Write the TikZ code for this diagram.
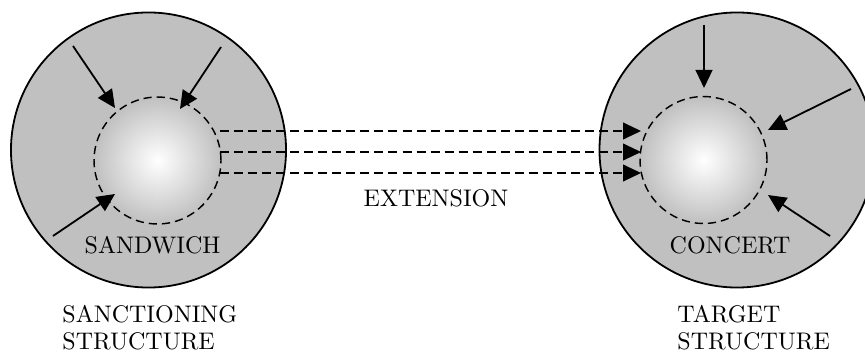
\documentclass[tikz,border=0pt]{standalone}
\usetikzlibrary{arrows.meta}
\definecolor{discgray}{RGB}{192,192,192}
\begin{document}
\begin{tikzpicture}[x=0.41667pt,y=-0.41667pt,
  bigdisc/.style={circle,draw=black,line width=0.75pt,fill=discgray,
    minimum size=114.6pt,inner sep=0pt},
  core/.style={circle,draw=black,line width=0.6pt,
    dash pattern=on 3.4pt off 2.1pt,
    inner color=white,outer color=discgray,
    minimum size=52.9pt,inner sep=0pt},
  force/.style={line width=0.75pt,-{Triangle[length=7.5pt,width=7pt]}},
  ext/.style={line width=0.65pt,dash pattern=on 3.75pt off 2.1pt,
    -{Triangle[length=7.5pt,width=7pt]}},
  lbl/.style={inner sep=0pt,font=\fontsize{10}{11.25}\selectfont}]
\useasboundingbox (0,0) rectangle (865,352);
\clip (0,0) rectangle (865,352);

% the two structures
\node[bigdisc] (sanc) at (148.5,150) {};
\node[bigdisc] (targ) at (737,150) {};
\node[core] (sancCore) at (157.5,160.5) {};
\node[core] (targCore) at (703.5,160) {};

% forces acting on the sanctioning structure
\coordinate (s1) at (73,46);    \coordinate (s1t) at (115,108);
\coordinate (s2) at (221,47);   \coordinate (s2t) at (180,109);
\coordinate (s3) at (53,236);   \coordinate (s3t) at (115,194);
\draw[force] (s1) -- (s1t);
\draw[force] (s2) -- (s2t);
\draw[force] (s3) -- (s3t);

% forces acting on the target structure
\coordinate (t1) at (704,25);   \coordinate (t1t) at (704,88);
\coordinate (t2) at (851,89);   \coordinate (t2t) at (768,130);
\coordinate (t3) at (830,236);  \coordinate (t3t) at (768,195);
\draw[force] (t1) -- (t1t);
\draw[force] (t2) -- (t2t);
\draw[force] (t3) -- (t3t);

% extension links
\foreach \yy/\nm in {131/a,152/b,173/c}{
  \coordinate (e\nm) at (220,\yy);
  \coordinate (f\nm) at (641,\yy);
  \draw[ext] (e\nm) -- (f\nm);
}

% labels
\node[lbl,anchor=base] (sandwich) at (152.5,253) {SANDWICH};
\node[lbl,anchor=base] (concert) at (730,253) {CONCERT};
\node[lbl,anchor=base] (extension) at (436,206) {EXTENSION};
\node[lbl,anchor=north west,align=left] (sanctioning) at (62,304.5)
  {SANCTIONING\\STRUCTURE};
\node[lbl,anchor=north west,align=left] (target) at (677,304.5)
  {TARGET\\STRUCTURE};
\end{tikzpicture}
\end{document}
